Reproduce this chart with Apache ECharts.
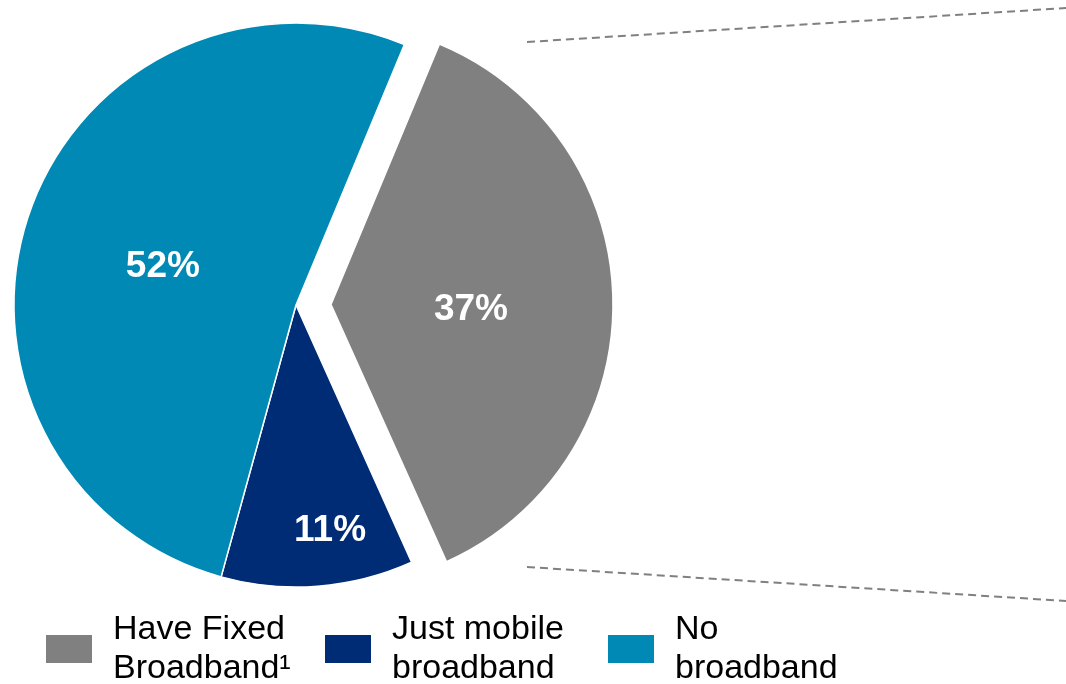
<!DOCTYPE html>
<html>
<head>
<meta charset="utf-8">
<script src="https://cdn.jsdelivr.net/npm/echarts@6/dist/echarts.min.js"></script>
<style>
  html, body { margin: 0; padding: 0; background: #ffffff; }
  #chart { width: 1066px; height: 684px; }
</style>
</head>
<body>
<div id="chart"></div>
<script>
// Share of households by broadband access
const categories = ['Have Fixed\nBroadband¹', 'Just mobile\nbroadband', 'No\nbroadband'];
const shares = [37, 11, 52];
const colors = ['#808080', '#002c76', '#0089b4'];

const chart = echarts.init(document.getElementById('chart'), null, { renderer: 'canvas' });

const fontFamily = '"Liberation Sans", Arial, sans-serif';

function legendFor(i, left) {
  return {
    data: [categories[i]],
    left: left,
    top: 610,
    orient: 'horizontal',
    icon: 'rect',
    itemWidth: 48,
    itemHeight: 30,
    selectedMode: false,
    padding: 0,
    textStyle: {
      fontFamily: fontFamily,
      fontSize: 34,
      lineHeight: 39,
      color: '#000000',
      padding: [0, 0, 0, 15]
    }
  };
}

// label nudges per slice: the narrow slice carries its label nearer the rim
const labelShift = [[-4, 7], [23, 82], [3, 9]];

const option = {
  animation: false,
  backgroundColor: '#ffffff',
  legend: [legendFor(0, 44), legendFor(1, 323), legendFor(2, 606)],
  series: [{
    type: 'pie',
    center: [296, 305],
    radius: 282,
    startAngle: 67.4,
    clockwise: true,
    selectedMode: 'single',
    selectedOffset: 35,
    avoidLabelOverlap: false,
    itemStyle: { borderColor: '#ffffff', borderWidth: 1.5 },
    emphasis: { disabled: true },
    select: { itemStyle: { borderColor: '#ffffff', borderWidth: 1.5 } },
    label: {
      show: true,
      position: 'inside',
      formatter: '{c}%',
      color: '#ffffff',
      fontFamily: fontFamily,
      fontWeight: 'bold',
      fontSize: 37
    },
    labelLine: { show: false },
    labelLayout: function (params) {
      const s = labelShift[params.dataIndex];
      return { dx: s[0], dy: s[1] };
    },
    data: categories.map((name, i) => ({
      name: name,
      value: shares[i],
      selected: i === 0,
      itemStyle: { color: colors[i] },
      select: { itemStyle: { color: colors[i] } }
    }))
  }],
  graphic: [
    {
      type: 'line',
      shape: { x1: 527, y1: 42, x2: 1066, y2: 8 },
      style: { stroke: '#808080', lineWidth: 2, lineDash: [8, 5] },
      silent: true
    },
    {
      type: 'line',
      shape: { x1: 527, y1: 567, x2: 1066, y2: 601 },
      style: { stroke: '#808080', lineWidth: 2, lineDash: [8, 5] },
      silent: true
    }
  ]
};

chart.setOption(option);
</script>
</body>
</html>
